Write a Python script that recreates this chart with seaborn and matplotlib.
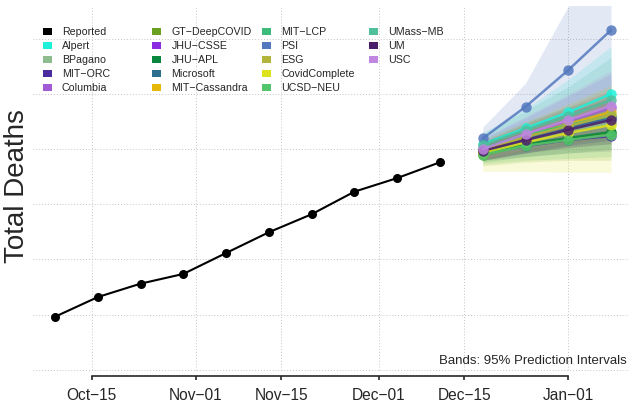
import numpy as np
import pandas as pd
import matplotlib
matplotlib.use('Agg')
import matplotlib.pyplot as plt
import matplotlib.dates as mdates
from matplotlib.patches import Rectangle
import seaborn as sns

sns.set_style('white')
plt.rcParams['font.family'] = ['Liberation Sans', 'DejaVu Sans']

# ---- data (cumulative deaths, thousands) ----
reported_dates = pd.date_range('2020-10-09', periods=10, freq='7D')
reported_deaths = [208.8, 219.5, 226.8, 232.1, 243.5, 254.8, 264.6, 276.9, 284.3, 292.9]

forecast_dates = pd.date_range('2020-12-18', periods=4, freq='7D')

model_names = ['Alpert', 'BPagano', 'MIT−ORC', 'Columbia', 'GT−DeepCOVID', 'JHU−CSSE',
               'JHU−APL', 'Microsoft', 'MIT−Cassandra', 'MIT−LCP', 'PSI', 'ESG',
               'CovidComplete', 'UCSD−NEU', 'UMass−MB', 'UM', 'USC']
model_colors = ['#1ef0da', '#8fbc8f', '#4b2c9f', '#a35bd5', '#6aa121', '#8b2be2',
                '#0a873f', '#2e6e8e', '#e5b80b', '#3dbb7a', '#5378be', '#b3b53a',
                '#dde31a', '#53c56c', '#4fbf9c', '#4a1d6a', '#c086e0']

# point forecasts: Dec-18, Dec-25, Jan-01, Jan-08
fc_mid = [
    [302.8, 311.5, 320.1, 330.1],  # Alpert
    [299.6, 305.6, 310.5, 314.3],  # BPagano
    [298.5, 301.7, 305.0, 307.2],  # MIT-ORC
    [300.1, 308.0, 315.4, 322.4],  # Columbia
    [296.8, 302.3, 305.6, 308.8],  # GT-DeepCOVID
    [299.0, 306.1, 312.1, 317.5],  # JHU-CSSE
    [297.9, 302.8, 306.1, 309.4],  # JHU-APL
    [299.0, 305.8, 311.5, 317.0],  # Microsoft
    [299.6, 307.2, 313.7, 320.3],  # MIT-Cassandra
    [300.7, 307.7, 313.2, 318.1],  # MIT-LCP
    [305.9, 323.1, 343.1, 364.9],  # PSI
    [299.0, 306.6, 312.6, 318.6],  # ESG
    [297.9, 303.7, 308.8, 313.2],  # CovidComplete
    [297.0, 301.9, 305.0, 307.9],  # UCSD-NEU
    [302.3, 310.5, 318.1, 326.8],  # UMass-MB
    [299.2, 305.0, 310.6, 315.9],  # UM
    [300.1, 308.3, 315.9, 323.7],  # USC
]
# 95% prediction intervals
fc_lo = [
    [297, 302, 307, 312],
    [295, 298, 301, 303],
    [294, 296, 298, 299],
    [294, 299, 303, 306],
    [291, 293, 294, 294],
    [294, 298, 302, 305],
    [293, 296, 298, 300],
    [294, 298, 302, 305],
    [295, 300, 304, 307],
    [296, 300, 304, 307],
    [300, 309, 318, 327],
    [294, 299, 303, 306],
    [288, 288, 287.5, 287.5],
    [292, 294, 295, 296],
    [296, 301, 305, 309],
    [294, 298, 301, 303],
    [295, 300, 304, 307],
]
fc_hi = [
    [309, 322, 338, 356],
    [304, 312, 320, 327],
    [303, 308, 313, 317],
    [306, 317, 329, 341],
    [302, 310, 317, 323],
    [304, 314, 323, 332],
    [303, 310, 316, 321],
    [304, 313, 322, 330],
    [304, 314, 324, 334],
    [305, 315, 323, 330],
    [312, 336, 378, 420],
    [304, 314, 323, 332],
    [305, 315, 325, 335],
    [302, 309, 315, 320],
    [308, 321, 334, 350],
    [304, 312, 320, 328],
    [306, 318, 330, 343],
]

tick_dates = pd.to_datetime(['2020-10-15', '2020-11-01', '2020-11-15',
                             '2020-12-01', '2020-12-15', '2021-01-01'])
tick_labels = ['Oct−15', 'Nov−01', 'Nov−15', 'Dec−01', 'Dec−15', 'Jan−01']
grid_y = [180, 210, 240, 270, 300, 330, 360]

# long table for seaborn
fc_df = pd.DataFrame({
    'date': np.tile(forecast_dates, len(model_names)),
    'deaths': np.array(fc_mid).ravel(),
    'model': np.repeat(model_names, len(forecast_dates)),
})
rep_df = pd.DataFrame({'date': reported_dates, 'deaths': reported_deaths})

# ---- figure ----
W, H = 629, 410
fig = plt.figure(figsize=(W / 100, H / 100), dpi=100)
ax = fig.add_axes([33 / W, 1 - 377.3 / H, 596 / W, 370.3 / H])

x0 = mdates.date2num(pd.Timestamp('2020-10-15'))
ax.set_xlim(x0 - 9.61, x0 + 87.94)
ax.set_ylim(176.35, 378.0)

grid_kw = dict(color='#c4c4c4', ls=(0, (1, 2)), lw=0.7, zorder=0)
for gy in grid_y:
    ax.axhline(gy, **grid_kw)
ax.vlines(tick_dates, grid_y[0], 378.0, **grid_kw)

# prediction bands
for lo, hi, c in zip(fc_lo, fc_hi, model_colors):
    ax.fill_between(forecast_dates, lo, hi, color=c, alpha=0.16, lw=0, zorder=1)

sns.lineplot(data=fc_df, x='date', y='deaths', hue='model', hue_order=model_names,
             palette=dict(zip(model_names, model_colors)), marker='o', markersize=7.5,
             markeredgewidth=0, linewidth=1.8, alpha=0.85, legend=False, ax=ax, zorder=3)
sns.lineplot(data=rep_df, x='date', y='deaths', color='black', marker='o', markersize=6.5,
             markeredgewidth=0, linewidth=1.5, legend=False, ax=ax, zorder=4)

ax.set_xlabel('')
ax.set_ylabel('')
ax.set_yticks([])
ax.set_xticks(tick_dates)
ax.set_xticklabels(tick_labels)
for s in ['left', 'right', 'top']:
    ax.spines[s].set_visible(False)
ax.spines['bottom'].set_bounds(mdates.date2num(tick_dates[0]), mdates.date2num(tick_dates[-1]))
ax.spines['bottom'].set_linewidth(1.2)
ax.tick_params(axis='x', direction='out', length=3, width=1.2, pad=5, labelsize=11.2,
               bottom=True)

ax.text(0.9966, 0.0448, 'Bands: 95% Prediction Intervals', transform=ax.transAxes,
        ha='right', va='center', fontsize=9.5)

fig.text(17 / W, 1 - 186 / H, 'Total Deaths', rotation=90, ha='center', va='center',
         fontsize=20)

# legend, 4 equal columns like the original
leg_names = ['Reported'] + model_names
leg_colors = ['black'] + model_colors
col_x = [42.7, 152.3, 261.7, 369.3]
for i, (nm, c) in enumerate(zip(leg_names, leg_colors)):
    col, row = i // 5, i % 5
    bx = col_x[col]
    cy = 32.3 + 14 * row
    fig.patches.append(Rectangle((bx / W, 1 - (cy + 3.5) / H), 9 / W, 7 / H,
                                 transform=fig.transFigure, color=c, lw=0))
    fig.text((bx + 19.3) / W, 1 - cy / H, nm, ha='left', va='center', fontsize=7.7)

fig.savefig('out.png', dpi=100)
